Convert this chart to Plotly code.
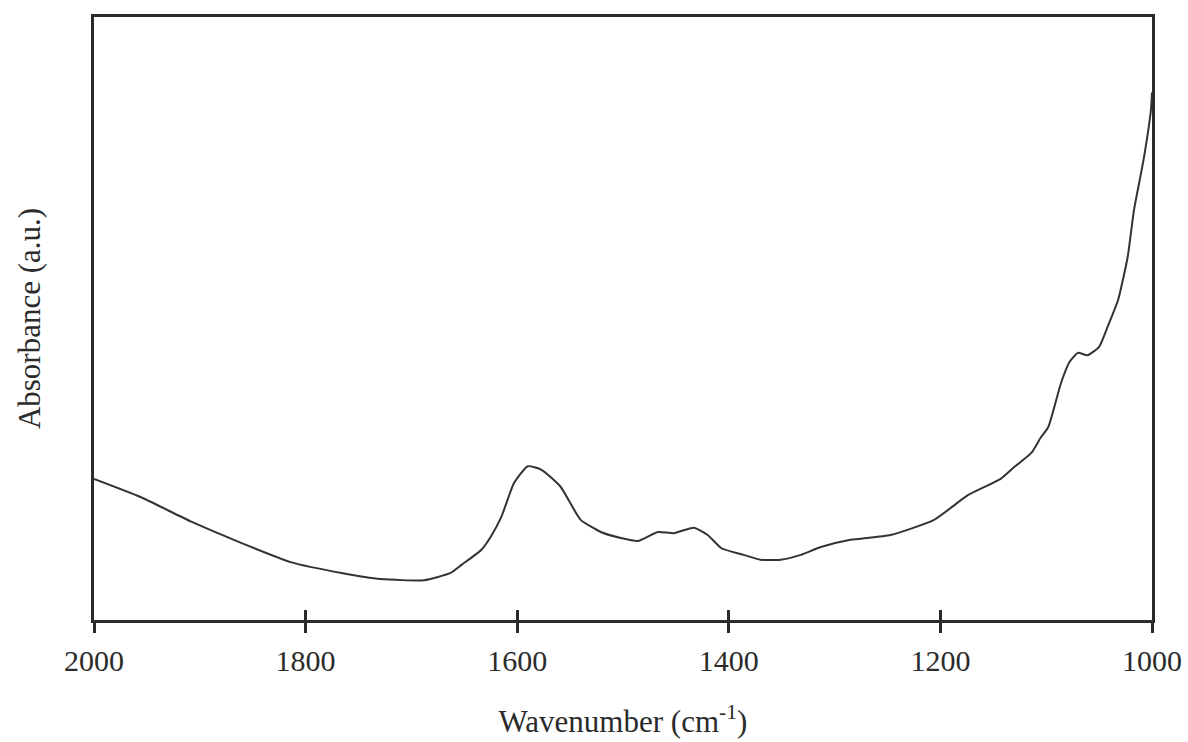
import plotly.graph_objects as go

# Wavenumber (cm^-1) and absorbance (a.u.)
wavenumber = [2000, 1956, 1908, 1861, 1814, 1766, 1729, 1688, 1663, 1653, 1634,
              1625, 1615, 1603, 1590, 1577, 1559, 1540, 1521, 1502, 1486, 1467, 1452,
              1433, 1420, 1407, 1386, 1370, 1351, 1332, 1313, 1285, 1247, 1206, 1174,
              1143, 1130, 1114, 1105, 1098, 1086, 1078, 1070, 1061, 1050, 1042, 1032,
              1023, 1017, 1008, 1001, 1000]
absorbance = [0.234, 0.204, 0.163, 0.128, 0.096, 0.078, 0.068, 0.066, 0.078, 0.091, 0.116,
              0.138, 0.171, 0.227, 0.255, 0.249, 0.221, 0.166, 0.146, 0.136, 0.131, 0.146, 0.144,
              0.153, 0.141, 0.119, 0.108, 0.100, 0.100, 0.108, 0.121, 0.133, 0.141, 0.166, 0.207,
              0.234, 0.254, 0.277, 0.303, 0.320, 0.393, 0.428, 0.443, 0.439, 0.453, 0.486, 0.531,
              0.602, 0.680, 0.763, 0.846, 0.875]
tick_values = [2000, 1800, 1600, 1400, 1200, 1000]
tick_labels = ["2000", "1800", "1600", "1400", "1200", "1000"]

FONT = "Liberation Serif, Times New Roman, serif"
INK = "#2b2b2b"

fig = go.Figure()
fig.add_trace(go.Scatter(
    x=wavenumber, y=absorbance, mode="lines",
    line=dict(color="#333333", width=2, shape="spline", smoothing=0.5),
    showlegend=False, hoverinfo="skip",
))
# invisible trace on overlay axis so the inside ticks render
fig.add_trace(go.Scatter(x=[2000, 1000], y=[None, None], xaxis="x2", mode="lines",
                         showlegend=False, hoverinfo="skip"))

fig.update_layout(
    width=1188, height=742,
    margin=dict(l=94, r=36, t=17, b=122),
    paper_bgcolor="white", plot_bgcolor="white",
    font=dict(family=FONT, size=30, color=INK),
    xaxis=dict(
        range=[2000, 1000], tickvals=tick_values, ticktext=tick_labels,
        ticks="outside", ticklen=10, tickwidth=2.5, tickcolor=INK,
        showline=True, linewidth=2.5, linecolor=INK, mirror=True,
        showgrid=False, zeroline=False, automargin=False,
        ticklabelstandoff=2,
        tickfont=dict(family=FONT, size=30, color=INK),
        title=dict(text="Wavenumber (cm<sup>-1</sup>)", standoff=35,
                   font=dict(family=FONT, size=31, color=INK)),
    ),
    xaxis2=dict(
        range=[2000, 1000], tickvals=tick_values, overlaying="x", side="bottom",
        anchor="y", ticks="inside", ticklen=10, tickwidth=2.5, tickcolor=INK,
        showticklabels=False, showgrid=False, zeroline=False, showline=False,
        automargin=False,
    ),
    yaxis=dict(
        range=[0, 1], showticklabels=False, ticks="", showgrid=False, zeroline=False,
        showline=True, linewidth=2.5, linecolor=INK, mirror=True, automargin=False,
        title=dict(text="Absorbance (a.u.)", standoff=42,
                   font=dict(family=FONT, size=31, color=INK)),
    ),
)

fig.write_html("out.html")
